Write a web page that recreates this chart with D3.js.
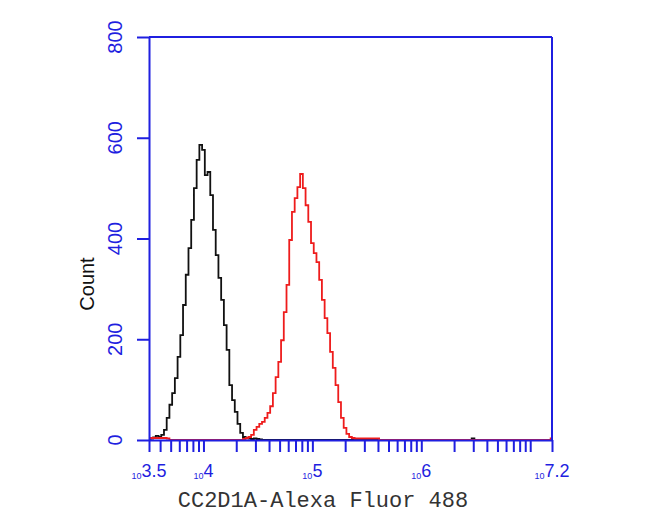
<!DOCTYPE html>
<html><head><meta charset="utf-8">
<script src="https://cdn.jsdelivr.net/npm/d3@7"></script>
<style>body{margin:0;background:#fff}svg{display:block}</style>
</head><body>
<svg id="chart" width="650" height="521"></svg>
<script>
// ---- data (log10 fluorescence intensity, event count) ----
const blackLog = [3.5,3.525,3.55,3.575,3.6,3.625,3.65,3.675,3.7,3.725,3.75,3.775,3.8,3.825,3.85,3.875,3.9,3.925,3.95,3.975,4.0,4.025,4.05,4.075,4.1,4.125,4.15,4.175,4.2,4.225,4.25,4.275,4.3,4.325,4.35,4.375,4.4,4.425,4.45,4.475,4.5,4.525,4.55,6.45,6.475,6.5,7.2];
const blackCount = [2,3,5,8,6,10,20,44,70,93,123,165,208,268,328,381,437,500,556,586,576,526,532,486,417,367,322,278,228,179,109,79,56,32,14,6,4,3,2,3,2,1,0,0,3,0,0];
const redLog = [3.5,3.525,3.55,3.575,3.6,3.625,3.65,3.675,3.7,4.35,4.375,4.4,4.425,4.45,4.475,4.5,4.525,4.55,4.575,4.6,4.625,4.65,4.675,4.7,4.725,4.75,4.775,4.8,4.825,4.85,4.875,4.9,4.925,4.95,4.975,5.0,5.025,5.05,5.075,5.1,5.125,5.15,5.175,5.2,5.225,5.25,5.275,5.3,5.325,5.35,5.375,5.4,5.45,5.5,5.55,5.6,5.625,7.175,7.2];
const redCount = [3,4,4,4,4,4,4,3,0,0,2,4,6,10,20,26,32,36,44,54,67,93,125,155,198,254,308,397,453,480,502,528,500,466,433,391,371,353,318,278,242,212,175,143,109,75,44,24,12,6,4,3,3,3,3,3,0,0,3];
const yTicks = [0,200,400,600,800];
const xLabelExps = ["3.5","4","5","6","7.2"];
const xLabelLogs = [3.5,4,5,6,7.2];
const xTitle = "CC2D1A-Alexa Fluor 488";
const yTitle = "Count";

const blue = "#1f1fe0";
const svg = d3.select("#chart");
const mLeft = 149, mRight = 552, mTop = 37, mBottom = 440;

const x = d3.scaleLog().domain([Math.pow(10,3.5), Math.pow(10,7.2)]).range([mLeft, mRight]);
const y = d3.scaleLinear().domain([0,800]).range([mBottom, mTop]);

// curves
const line = d3.line().x(d => x(Math.pow(10,d[0]))).y(d => y(d[1])).curve(d3.curveStep);
svg.append("path").datum(blackLog.map((v,i)=>[v,blackCount[i]]))
  .attr("d", line).attr("fill","none").attr("stroke","#111").attr("stroke-width",1.8);
svg.append("path").datum(redLog.map((v,i)=>[v,redCount[i]]))
  .attr("d", line).attr("fill","none").attr("stroke","#ee1c1c").attr("stroke-width",1.8);

// frame (top, right)
svg.append("line").attr("x1",mLeft).attr("x2",mRight).attr("y1",mTop).attr("y2",mTop)
  .attr("stroke",blue).attr("stroke-width",2);
svg.append("line").attr("x1",mRight).attr("x2",mRight).attr("y1",mTop).attr("y2",mBottom)
  .attr("stroke",blue).attr("stroke-width",2);

// x axis
const xTickVals = [x.domain()[0], ...x.ticks(), x.domain()[1]];
const gx = svg.append("g").attr("transform",`translate(0,${mBottom})`)
  .call(d3.axisBottom(x).tickValues(xTickVals).tickSize(12).tickSizeOuter(0).tickFormat(""));
gx.selectAll("path,line").attr("stroke",blue).attr("stroke-width",2);

// y axis
const gy = svg.append("g").attr("transform",`translate(${mLeft},0)`)
  .call(d3.axisLeft(y).tickValues(yTicks).tickSize(12).tickSizeOuter(0).tickFormat(""));
gy.selectAll("path,line").attr("stroke",blue).attr("stroke-width",2);

// y tick labels (rotated)
svg.append("g").selectAll("text").data(yTicks).join("text")
  .attr("transform", d => `translate(122,${y(d)}) rotate(-90)`)
  .attr("text-anchor","middle")
  .attr("font-family","'Liberation Sans', Arial, sans-serif")
  .attr("font-size",20).attr("fill",blue).text(d => d);

// x tick labels: small "10" + exponent
const xl = svg.append("g").selectAll("text").data(xLabelLogs).join("text")
  .attr("x", d => x(Math.pow(10,d)))
  .attr("y", 477)
  .attr("text-anchor","middle")
  .attr("font-family","'Liberation Sans', Arial, sans-serif")
  .attr("fill",blue);
xl.append("tspan").attr("font-size",9).attr("dy",2).text("10");
xl.append("tspan").attr("font-size",18).attr("dy",-2).text((d,i)=>xLabelExps[i]);

// titles
svg.append("text").attr("x",323).attr("y",507).attr("text-anchor","middle")
  .attr("font-family","'Liberation Mono', 'Courier New', monospace")
  .attr("font-size",22).attr("fill","#333").text(xTitle);
svg.append("text").attr("transform","translate(94,284) rotate(-90)")
  .attr("text-anchor","middle")
  .attr("font-family","'Liberation Sans', Arial, sans-serif")
  .attr("font-size",20).attr("fill","#111").text(yTitle);
</script>
</body></html>
